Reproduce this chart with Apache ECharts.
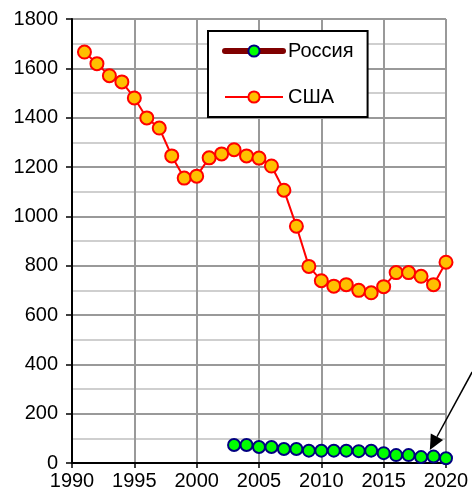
<!DOCTYPE html>
<html><head><meta charset="utf-8">
<script src="https://cdn.jsdelivr.net/npm/echarts@6/dist/echarts.min.js"></script>
<style>html,body{margin:0;padding:0;background:#fff}#c{width:472px;height:499px}</style>
</head><body><div id="c"></div>
<script>
const usaYears = [1991,1992,1993,1994,1995,1996,1997,1998,1999,2000,2001,2002,2003,2004,2005,2006,2007,2008,2009,2010,2011,2012,2013,2014,2015,2016,2017,2018,2019,2020];
const usaValues = [1666,1619,1570,1545,1480,1399,1358,1245,1155,1163,1237,1253,1270,1245,1236,1204,1106,960,797,739,717,723,700,690,715,772,772,757,723,814];
const rusYears = [2003,2004,2005,2006,2007,2008,2009,2010,2011,2012,2013,2014,2015,2016,2017,2018,2019,2020];
const rusValues = [73,73,65,65,57,57,50,50,50,50,48,50,40,32,32,24,26,19];
const seriesNames = ['Россия','США'];
const arrowFrom = [2022.1, 369];
const arrowTo = [2018.7, 53];

const font = '"Liberation Sans", Arial, sans-serif';
const chart = echarts.init(document.getElementById('c'));
chart.setOption({
  animation: false,
  grid: {left: 72, right: 26, top: 19, bottom: 36, containLabel: false},
  legend: {
    left: 208, top: 31, orient: 'vertical',
    backgroundColor: '#fff', borderColor: '#000', borderWidth: 2, borderRadius: 0,
    padding: [10, 14, 10, 14], itemGap: 26, itemWidth: 58, itemHeight: 14,
    textStyle: {fontFamily: font, fontSize: 20, color: '#000'},
    data: [
      {name: seriesNames[0], lineStyle: {width: 6, color: '#800000', cap: 'round'}},
      {name: seriesNames[1], lineStyle: {width: 2, color: '#ff0000'}}
    ]
  },
  xAxis: {
    type: 'value', min: 1990, max: 2020, interval: 5,
    axisLine: {lineStyle: {color: '#000', width: 2}},
    axisTick: {show: true, length: 5, lineStyle: {color: '#000', width: 1.5}},
    axisLabel: {fontFamily: font, fontSize: 20, color: '#000', margin: 8, formatter: v => String(v)},
    splitLine: {show: true, lineStyle: {color: '#999', width: 2}}
  },
  yAxis: {
    type: 'value', min: 0, max: 1800, interval: 200,
    axisLine: {show: true, lineStyle: {color: '#000', width: 2}},
    axisTick: {show: true, length: 6, lineStyle: {color: '#000', width: 1.5}},
    axisLabel: {fontFamily: font, fontSize: 20, color: '#000', margin: 14, formatter: v => String(v)},
    splitLine: {show: true, lineStyle: {color: '#999', width: 2}},
    minorTick: {show: false, splitNumber: 2},
    minorSplitLine: {show: true, lineStyle: {color: '#cfcfcf', width: 2}}
  },
  series: [
    {
      name: seriesNames[0], type: 'line', z: 3,
      data: rusYears.map((y, i) => [y, rusValues[i]]),
      symbol: 'circle', symbolSize: 12,
      lineStyle: {color: '#800000', width: 5, cap: 'round'},
      itemStyle: {color: '#00ff00', borderColor: '#000080', borderWidth: 2}
    },
    {
      name: seriesNames[1], type: 'line', z: 2,
      data: usaYears.map((y, i) => [y, usaValues[i]]),
      symbol: 'circle', symbolSize: 13,
      lineStyle: {color: '#ff0000', width: 2},
      itemStyle: {color: '#ffc000', borderColor: '#ff0000', borderWidth: 2}
    }
  ]
});
const p0 = chart.convertToPixel({gridIndex: 0}, arrowFrom);
const p1 = chart.convertToPixel({gridIndex: 0}, arrowTo);
const dx = p1[0]-p0[0], dy = p1[1]-p0[1], L = Math.hypot(dx, dy);
const ux = dx/L, uy = dy/L, hl = 15, hw = 7;
const bx = p1[0]-ux*hl, by = p1[1]-uy*hl;
chart.setOption({graphic: [
  {type: 'line', z: 100, shape: {x1: p0[0], y1: p0[1], x2: bx, y2: by}, style: {stroke: '#000', lineWidth: 1.5}},
  {type: 'polygon', z: 100, shape: {points: [[p1[0], p1[1]], [bx - uy*hw, by + ux*hw], [bx + uy*hw, by - ux*hw]]}, style: {fill: '#000'}}
]});
</script></body></html>
